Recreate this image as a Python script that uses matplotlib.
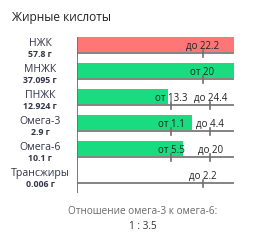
import matplotlib.pyplot as plt

plt.rcParams['font.family'] = ['Open Sans', 'DejaVu Sans']

names = ["НЖК", "МНЖК", "ПНЖК", "Омега-3", "Омега-6", "Трансжиры"]
amounts = [57.8, 37.095, 12.924, 2.9, 10.1, 0.006]
amount_labels = ["57.8 г", "37.095 г", "12.924 г", "2.9 г", "10.1 г", "0.006 г"]
norm_min = [None, 20, 13.3, 1.1, 5.5, None]
norm_max = [22.2, None, 24.4, 4.4, 20, 2.2]
over = [True, False, False, False, False, False]  # red when above max

RED = "#ff7676"
GREEN = "#19dc80"
GREY = "#6e6e6e"
TXT = "#34344a"


def frac(v, lo, hi):
    # position of value on the row scale (norm points at fixed places)
    if lo is not None and hi is not None:
        if v <= lo:
            return 0.6 * v / lo
        return min(1.0, 0.6 + 0.25 * (v - lo) / (hi - lo))
    ref = lo if lo is not None else hi
    return min(1.0, 0.8 * v / ref)


def frac_tick(lo, hi):
    if lo is not None and hi is not None:
        return 0.6, 0.85
    return (0.8, None) if lo is not None else (None, 0.8)


fig = plt.figure(figsize=(2.72, 2.4), dpi=100)
fig.patch.set_facecolor("white")

fig.text(12 / 272, 1 - 21 / 240, "Жирные кислоты", fontsize=8.6,
         color="#222222", ha="left", va="baseline")

ax = fig.add_axes([76.5 / 272, 1 - 192.7 / 240, 157.5 / 272, 156 / 240])
ax.set_xlim(0, 1)
ax.set_ylim(5.354, -0.646)
ax.axis("off")
ax.axvline(0, color=GREY, lw=1.3)

lbl_tr = ax.get_yaxis_transform()
for i, name in enumerate(names):
    lo, hi = norm_min[i], norm_max[i]
    w = frac(amounts[i], lo, hi)
    ax.barh(i - 0.33, max(w, 0.006), height=0.58, left=0,
            color=RED if over[i] else GREEN, lw=0)
    ax.plot([0, 1], [i, i], color=GREY, lw=1.2, solid_capstyle="butt")
    tlo, thi = frac_tick(lo, hi)
    for t, pre, val in ((tlo, "от ", lo), (thi, "до ", hi)):
        if t is None:
            continue
        ax.plot([t, t], [i - 0.12, i + 0.12], color=GREY, lw=1.2)
        ax.text(t, i - 0.19, pre + ("%g" % val), fontsize=7, color="#222222",
                ha="center", va="baseline")
    ax.text(-0.232, i - 0.27, name, fontsize=7.6, color=TXT,
            ha="center", va="baseline", transform=lbl_tr)
    ax.text(-0.232, i + 0.13, amount_labels[i], fontsize=6.3, color=TXT,
            fontweight="bold", ha="center", va="baseline", transform=lbl_tr)

fig.text(143 / 272, 1 - 214 / 240, "Отношение омега-3 к омега-6:",
         fontsize=7.2, color="#6a6a6a", ha="center", va="baseline")
fig.text(143 / 272, 1 - 229 / 240, "1 : 3.5", fontsize=7.2, color="#333333",
         ha="center", va="baseline")

fig.savefig("out.png", dpi=100)
